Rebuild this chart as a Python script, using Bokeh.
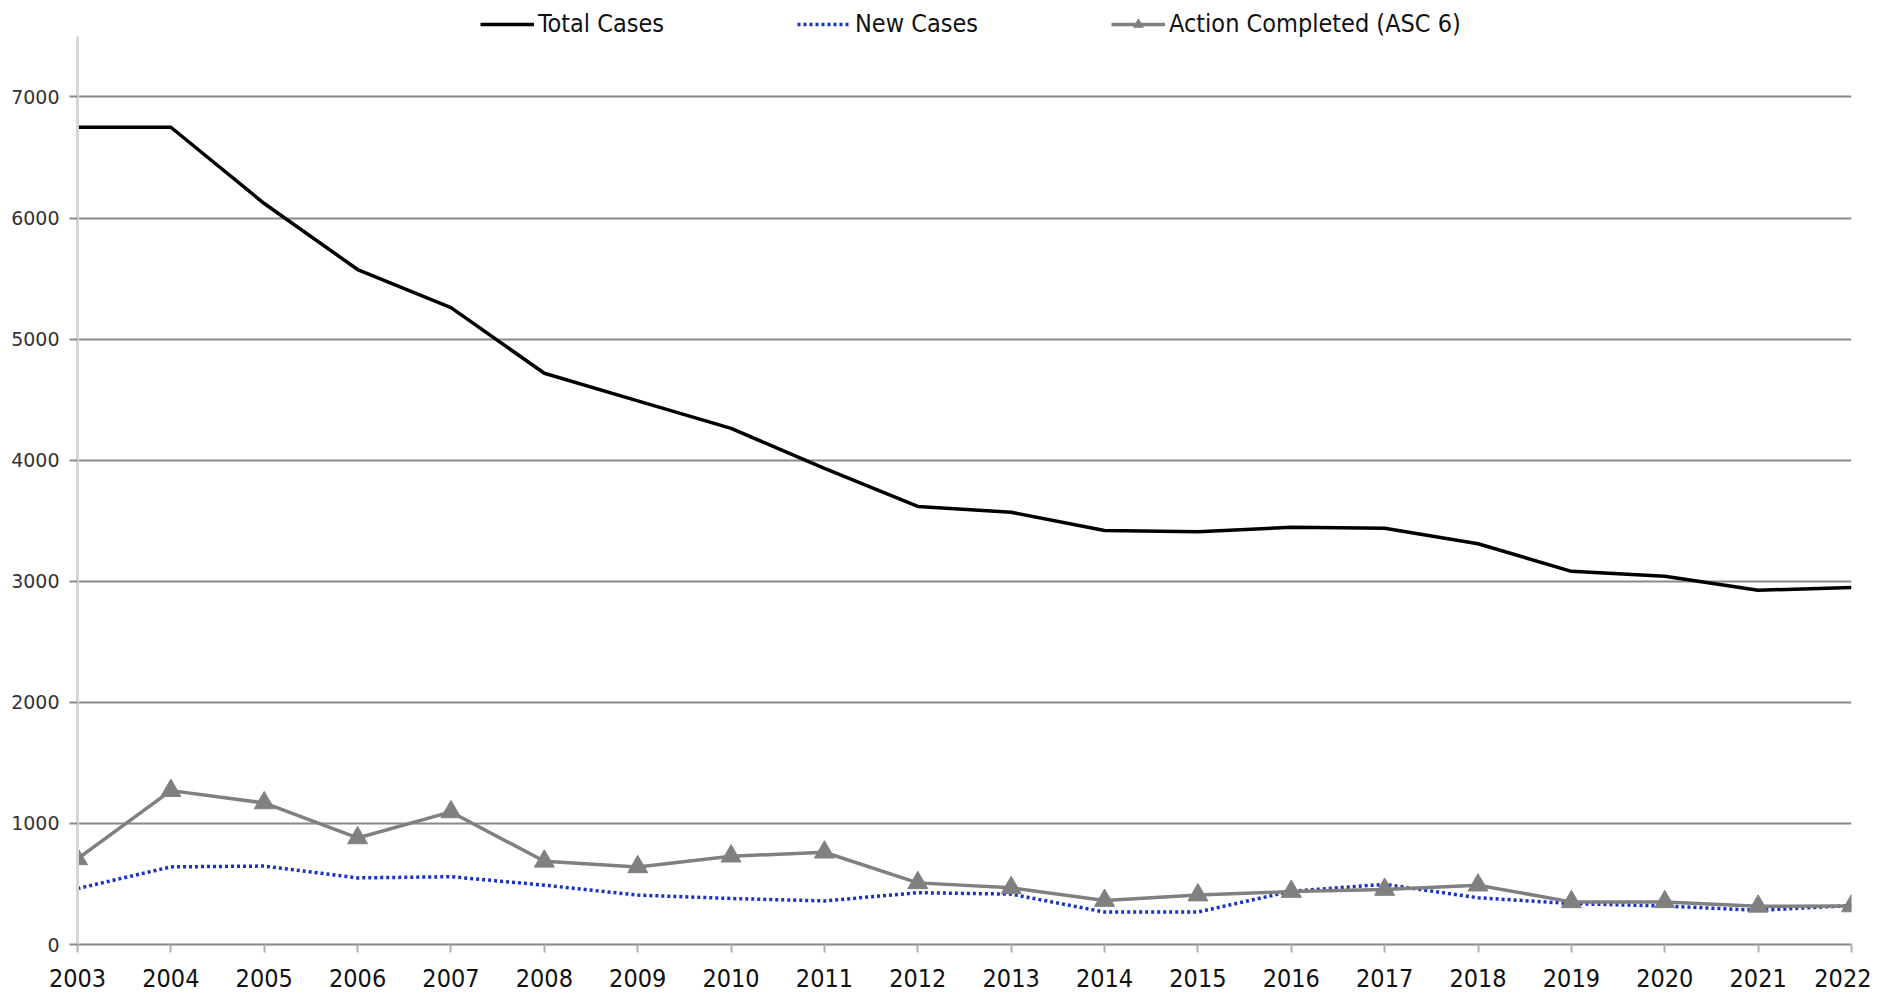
from bokeh.plotting import figure
from bokeh.models import FixedTicker, Legend, LegendItem
from bokeh.embed import file_html
from bokeh.resources import INLINE

years = list(range(2003, 2023))
total_cases = [6750, 6750, 6120, 5575, 5260, 4718, 4490, 4263, 3932, 3618,
               3570, 3420, 3409, 3446, 3438, 3310, 3082, 3042, 2926, 2948]
new_cases = [462, 641, 648, 550, 560, 490, 408, 380, 360, 428,
             416, 268, 268, 440, 497, 386, 338, 318, 282, 322]
action_completed = [707, 1271, 1169, 880, 1095, 687, 641, 729, 762, 509,
                    468, 363, 408, 437, 454, 490, 352, 352, 315, 318]
y_ticks = [0, 1000, 2000, 3000, 4000, 5000, 6000, 7000]
Y_AXIS_MAX = 7500

NARROW = "'Liberation Sans Narrow', 'DejaVu Sans Condensed', sans-serif"

p = figure(width=1871, height=994, output_backend="svg", toolbar_location=None,
           x_range=(2003, 2022), y_range=(0, 7797),
           min_border_left=77, min_border_right=20, min_border_top=0,
           min_border_bottom=50)
p.outline_line_color = None
p.background_fill_color = "white"
p.border_fill_color = "white"

# grid
p.xgrid.grid_line_color = None
p.ygrid.grid_line_color = "#8a8a8a"
p.ygrid.grid_line_width = 2
p.ygrid.ticker = FixedTicker(ticks=y_ticks)

# y axis
p.yaxis.ticker = FixedTicker(ticks=y_ticks)
p.yaxis.bounds = (0, Y_AXIS_MAX)
p.yaxis.axis_line_color = "#d6d6d6"
p.yaxis.axis_line_width = 3
p.yaxis.major_tick_line_color = "#8a8a8a"
p.yaxis.major_tick_line_width = 2
p.yaxis.major_tick_out = 8
p.yaxis.major_tick_in = 0
p.yaxis.minor_tick_line_color = None
p.yaxis.major_label_text_font = "DejaVu Sans"
p.yaxis.major_label_text_font_size = "19px"
p.yaxis.major_label_text_color = "#333333"
p.yaxis.major_label_standoff = 10

# x axis
p.xaxis.ticker = FixedTicker(ticks=years)
p.xaxis.axis_line_color = "#8a8a8a"
p.xaxis.axis_line_width = 2
p.xaxis.major_tick_line_color = "#b0b0b0"
p.xaxis.major_tick_line_width = 2
p.xaxis.major_tick_out = 8
p.xaxis.major_tick_in = 0
p.xaxis.minor_tick_line_color = None
p.xaxis.major_label_text_font = NARROW
p.xaxis.major_label_text_font_size = "25px"
p.xaxis.major_label_text_color = "#111111"
p.xaxis.major_label_standoff = 16

r_total = p.line(years, total_cases, line_color="black", line_width=3.5)
r_new = p.line(years, new_cases, line_color="#1a32c4", line_width=3.5,
               line_dash="3 3")
r_act_line = p.line(years, action_completed, line_color="#808080", line_width=3.5)
r_act_pts = p.scatter(years, action_completed, marker="triangle", size=20,
                      fill_color="#808080", line_color="#808080")

legend = Legend(items=[
    LegendItem(label="Total Cases", renderers=[r_total]),
    LegendItem(label="New Cases", renderers=[r_new]),
    LegendItem(label="Action Completed (ASC 6)", renderers=[r_act_line, r_act_pts]),
], orientation="horizontal", location=(403, 906))
legend.label_text_font = NARROW
legend.label_text_font_size = "25px"
legend.label_text_color = "#111111"
legend.glyph_width = 54
legend.glyph_height = 24
legend.label_standoff = 4
legend.spacing = 133
legend.padding = 4
legend.margin = 0
legend.border_line_color = None
legend.background_fill_alpha = 0
p.add_layout(legend)

open("out.html", "w").write(file_html(p, INLINE))
